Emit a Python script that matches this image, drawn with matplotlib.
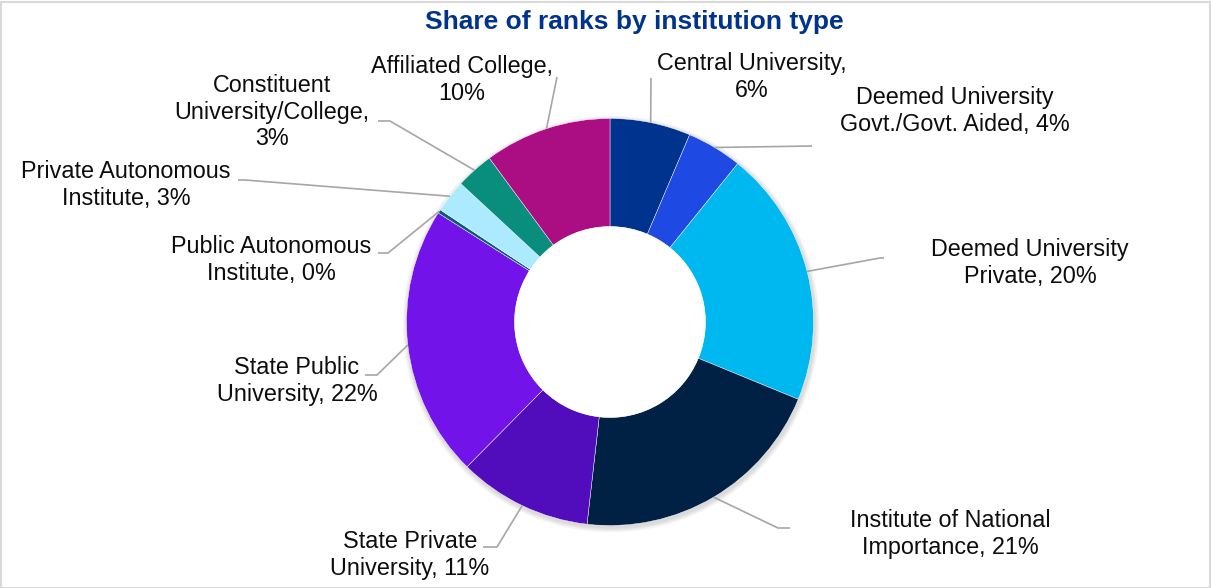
import numpy as np
import matplotlib
matplotlib.use("Agg")
import matplotlib.pyplot as plt
from matplotlib.patches import Rectangle, Circle

plt.rcParams["font.family"] = ["Liberation Sans", "DejaVu Sans"]

# --- data ---
categories = [
    "Central University",
    "Deemed University Govt./Govt. Aided",
    "Deemed University Private",
    "Institute of National Importance",
    "State Private University",
    "State Public University",
    "Public Autonomous Institute",
    "Private Autonomous Institute",
    "Constituent University/College",
    "Affiliated College",
]
shares = [6.4, 4.4, 20.4, 20.6, 10.6, 21.6, 0.3, 2.6, 3.0, 10.1]
label_heads = [
    "Central University,\n",
    "Deemed University\nGovt./Govt. Aided, ",
    "Deemed University\nPrivate, ",
    "Institute of National\nImportance, ",
    "State Private\nUniversity, ",
    "State Public\nUniversity, ",
    "Public Autonomous\nInstitute, ",
    "Private Autonomous\nInstitute, ",
    "Constituent\nUniversity/College,\n",
    "Affiliated College,\n",
]
colors = ["#00338D", "#1E49E2", "#00B8F0", "#002144", "#510DBC",
          "#7213EA", "#0C5A7A", "#ACEAFF", "#098E7E", "#AB0D82"]

# --- layout (pixel coords, y from top) ---
W, H = 1211, 588
cx, cy = 610, 322
r_out, r_in = 203.5, 95.5
label_pos = [(752, 77), (955, 111), (1030, 263), (950, 534), (410, 555),
             (297, 381), (271, 260), (126, 185), (272, 112), (462, 80)]
leader_elbow = [(651, 78), (812, 146), (880, 258), (778, 528), (497, 547),
                (377, 375), (388, 253), (245, 180), (390, 121), (557, 77)]
leader_end = [(651, 78), (812, 146), (884, 258), (790, 528), (483, 547),
              (365, 375), (378, 253), (238, 180), (378, 121), (557, 77)]

fig = plt.figure(figsize=(W / 100, H / 100), dpi=100, facecolor="white")
ax = fig.add_axes([0, 0, 1, 1])

# faint shadow round the ring
for k in range(6):
    ax.add_patch(Circle((cx + 1, H - cy - 2), r_out + 1 + k * 0.8,
                        color="#000000", alpha=0.025, lw=0, zorder=0))

wedges, _ = ax.pie(
    shares,
    colors=colors,
    startangle=90,
    counterclock=False,
    radius=r_out,
    center=(cx, H - cy),
    wedgeprops=dict(width=r_out - r_in, edgecolor="white", linewidth=0.3),
)
ax.add_patch(Circle((cx, H - cy), r_in, color="white", lw=0, zorder=3))

ax.set_xlim(0, W)
ax.set_ylim(0, H)
ax.set_aspect("equal")
ax.axis("off")

# labels + leader lines
for w, head, v, (lx, ly), (ex, ey), (fx, fy) in zip(
        wedges, label_heads, shares, label_pos, leader_elbow, leader_end):
    mid = np.deg2rad((w.theta1 + w.theta2) / 2)
    px = cx + r_out * np.cos(mid)
    py = (H - cy) + r_out * np.sin(mid)
    ax.plot([px, ex, fx], [py, H - ey, H - fy], color="#A6A6A6", lw=1.2,
            solid_capstyle="butt", zorder=1)
    ax.text(lx, H - ly, f"{head}{v:.0f}%", ha="center", va="center",
            fontsize=16.8, color="#0D0D0D", linespacing=1.2)

ax.text(634, H - 22, "Share of ranks by institution type", ha="center",
        va="center", fontsize=19, fontweight="bold", color="#00338D")

# chart border
fig.patches.append(Rectangle((0.5 / W, 0.5 / H), 1 - 2 / W, 1 - 2 / H,
                             transform=fig.transFigure, fill=False,
                             edgecolor="#D9D9D9", lw=1.5))

fig.savefig("out.png", dpi=100, facecolor="white")
